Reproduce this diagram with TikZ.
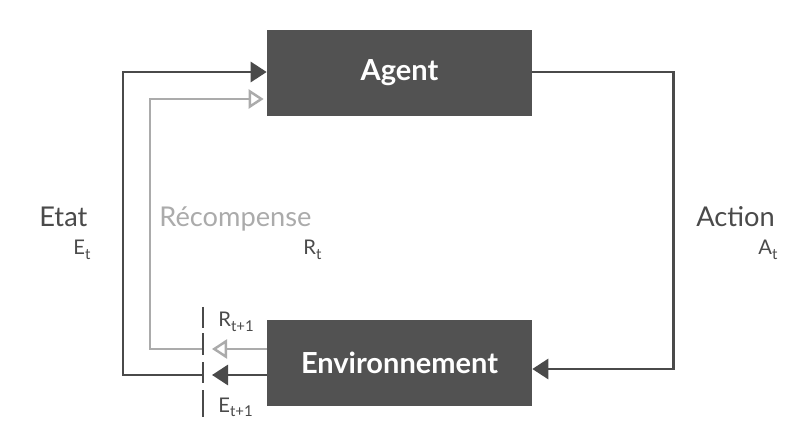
\documentclass[tikz,border=0pt]{standalone}
\usepackage{fontspec}
\setmainfont{Lato}
\usetikzlibrary{arrows.meta, positioning}
\definecolor{boxgray}{HTML}{525252}
\definecolor{linedark}{HTML}{4A4A4A}
\definecolor{linelight}{HTML}{ABABAB}
\newcommand{\lsub}[2]{#1\raisebox{-0.4ex}{\fontsize{8.5}{10}\selectfont #2}}

\begin{document}
\begin{tikzpicture}[x=0.02cm, y=-0.02cm,
    box/.style={rectangle, fill=boxgray, text=white, minimum width=5.3cm, minimum height=1.72cm, font=\bfseries\fontsize{16.5}{20}\selectfont},
    dark/.style={draw=linedark, line width=1.7pt, -{Triangle[length=0.32cm, width=0.4cm]}},
    light/.style={draw=linelight, line width=1.4pt, -{Triangle[open, length=0.3cm, width=0.38cm]}},
    lbl/.style={text=linedark, anchor=base west, inner sep=0pt, font=\fontsize{15.5}{18}\selectfont},
    sublbl/.style={text=linedark, anchor=base west, inner sep=0pt, font=\fontsize{11.5}{14}\selectfont}]
    \useasboundingbox[fill=white] (0,0) rectangle (800,445);

    % boxes
    \node[box] (agent) at (399.5,73) {Agent};
    \node[box] (env) at (399.5,363) {Environnement};

    % corners and separator
    \coordinate (actC) at (673,369);
    \coordinate (etatC) at (123,72);
    \coordinate (recC) at (150,99);
    \coordinate (sepT) at (203,307);
    \coordinate (sepB) at (203,417);
    \coordinate (etatS) at (203,375);
    \coordinate (recS) at (203,349);

    % action
    \draw[dark] (agent.east |- etatC) -| (actC) -- (env.east |- actC);

    % state
    \draw[dark] (env.west |- etatS) -- ([xshift=9*0.02cm]etatS);
    \draw[dark] (etatS) -| (etatC) -- (agent.west |- etatC);

    % reward
    \draw[light] (env.west |- recS) -- ([xshift=9*0.02cm]recS);
    \draw[light] (recS) -| (recC) -- ([xshift=-3*0.02cm]agent.west |- recC);

    \draw[linedark, line width=1.7pt, dash pattern=on 11.9pt off 3.1pt on 12.5pt off 4pt on 11.9pt off 4pt on 15.3pt off 10pt] (sepT) -- (sepB);

    % labels
    \node[lbl] (etat) at (39,227) {Etat};
    \node[sublbl] (et) at (73,255) {\lsub{E}{t}};
    \node[lbl, text=linelight] (rec) at (159,227) {Récompense};
    \node[sublbl] (rt) at (303,255) {\lsub{R}{t}};
    \node[lbl] (action) at (696,227) {Action};
    \node[sublbl] (at) at (758,255) {\lsub{A}{t}};
    \node[sublbl] (rt1) at (218,327) {\lsub{R}{t+1}};
    \node[sublbl] (et1) at (218,412) {\lsub{E}{t+1}};
\end{tikzpicture}
\end{document}
